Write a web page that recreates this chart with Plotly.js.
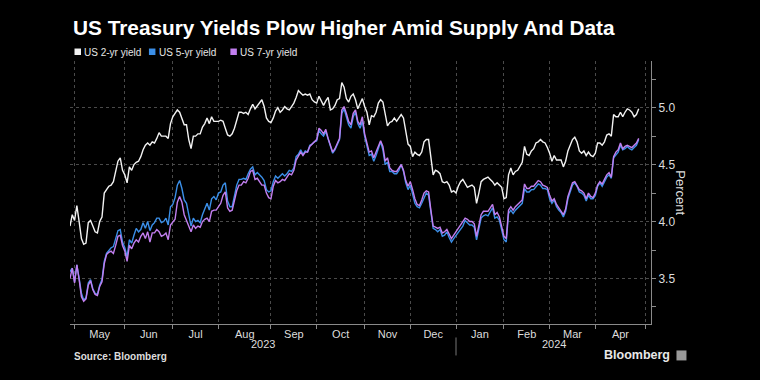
<!DOCTYPE html>
<html>
<head>
<meta charset="utf-8">
<script src="https://cdn.plot.ly/plotly-3.0.1.min.js"></script>
<style>html,body{margin:0;padding:0;background:#000;}#chart{width:760px;height:380px;}</style>
</head>
<body>
<div id="chart"></div>
<script>
// US bond-market holidays (skipped on the axis, like the original trading-day axis)
const holidays = ['2023-05-29','2023-06-19','2023-07-04','2023-09-04','2023-10-09','2023-11-10',
  '2023-11-23','2023-12-25','2024-01-01','2024-01-15','2024-02-19','2024-03-29'];
const firstDate = '2023-04-27';

const seriesNames = ['US 2-yr yield', 'US 5-yr yield', 'US 7-yr yield'];

// Daily closes, one per trading day from 2023-04-27 to 2024-04-26
const twoYr = [
3.96,4.06,4.01,4.14,4.00,3.85,3.80,3.81,3.99,4.01,
3.96,3.91,3.90,4.00,4.04,4.25,4.28,4.31,4.32,4.35,
4.44,4.53,4.56,4.45,4.41,4.34,4.48,4.45,4.50,4.52,
4.53,4.57,4.63,4.67,4.69,4.67,4.70,4.69,4.73,4.78,
4.75,4.75,4.75,4.73,4.86,4.92,4.95,4.98,4.96,4.91,
4.85,4.85,4.72,4.64,4.75,4.75,4.77,4.77,4.83,4.86,
4.91,4.86,4.92,4.88,4.88,4.88,4.89,4.88,4.82,4.76,
4.75,4.77,4.82,4.90,4.96,4.96,4.95,4.96,4.94,4.99,
5.03,4.99,5.02,5.05,5.07,5.01,4.91,4.88,4.87,4.91,
4.97,5.00,4.96,4.98,5.01,4.99,4.98,5.01,5.04,5.09,
5.15,5.13,5.11,5.12,5.11,5.12,5.07,5.05,5.04,5.10,
5.06,5.02,5.06,5.09,4.98,4.99,5.02,5.07,5.08,5.22,
5.18,5.08,5.05,5.10,5.12,5.07,4.99,5.04,5.08,5.01,
4.96,4.85,4.93,4.92,4.96,5.04,5.07,5.05,4.95,4.84,
4.87,4.88,4.91,4.88,4.91,4.94,4.91,4.79,4.68,4.66,
4.57,4.61,4.59,4.58,4.61,4.70,4.72,4.72,4.54,4.41,
4.45,4.44,4.42,4.35,4.34,4.35,4.32,4.26,4.27,4.25,
4.31,4.35,4.37,4.34,4.30,4.31,4.32,4.30,4.16,4.25,
4.35,4.37,4.38,4.39,4.37,4.35,4.32,4.34,4.32,4.30,
4.20,4.21,4.41,4.47,4.41,4.44,4.45,4.48,4.52,4.66,
4.59,4.58,4.62,4.64,4.69,4.70,4.72,4.70,4.69,4.65,
4.60,4.53,4.58,4.54,4.54,4.54,4.48,4.53,4.62,4.67,
4.72,4.74,4.70,4.62,4.60,4.62,4.58,4.61,4.58,4.57,
4.60,4.69,4.69,4.67,4.70,4.76,4.77,4.75,4.94,4.92,
4.92,4.96,4.92,4.96,4.99,4.98,4.96,4.92,4.94,4.99];

const fiveYr = [
3.56,3.59,3.47,3.62,3.50,3.37,3.31,3.33,3.46,3.49,
3.41,3.37,3.36,3.44,3.49,3.65,3.72,3.75,3.77,3.78,
3.85,3.92,3.93,3.82,3.77,3.69,3.84,3.81,3.88,3.94,
3.91,3.93,3.99,3.94,4.00,3.92,3.97,3.99,4.03,4.03,
3.99,4.00,4.03,3.97,4.13,4.15,4.21,4.32,4.36,4.29,
4.19,4.16,4.06,3.96,4.03,4.00,4.01,3.99,4.06,4.12,
4.16,4.10,4.20,4.22,4.19,4.25,4.26,4.32,4.34,4.18,
4.13,4.13,4.23,4.32,4.37,4.37,4.38,4.37,4.42,4.46,
4.48,4.41,4.43,4.41,4.39,4.36,4.28,4.26,4.27,4.35,
4.40,4.38,4.40,4.42,4.40,4.42,4.45,4.44,4.47,4.57,
4.59,4.63,4.59,4.62,4.61,4.67,4.68,4.70,4.71,4.80,
4.77,4.75,4.79,4.72,4.66,4.60,4.63,4.67,4.72,4.95,
4.99,4.92,4.85,4.82,4.92,4.96,4.86,4.82,4.88,4.75,
4.67,4.58,4.59,4.53,4.58,4.64,4.70,4.63,4.50,4.52,
4.44,4.44,4.42,4.42,4.45,4.50,4.44,4.34,4.28,4.32,
4.25,4.16,4.13,4.12,4.16,4.20,4.25,4.23,4.07,3.94,
3.93,3.91,3.93,3.87,3.88,3.91,3.86,3.82,3.85,3.88,
3.91,3.94,3.96,4.01,3.99,3.97,3.97,3.95,3.84,3.93,
4.03,4.05,4.06,4.05,4.08,4.12,4.03,4.04,4.01,3.91,
3.84,3.82,4.07,4.10,4.07,4.10,4.12,4.14,4.16,4.29,
4.26,4.26,4.28,4.28,4.31,4.33,4.32,4.29,4.29,4.28,
4.20,4.16,4.19,4.13,4.10,4.08,4.04,4.09,4.20,4.26,
4.32,4.34,4.31,4.26,4.25,4.23,4.18,4.23,4.20,4.20,
4.23,4.31,4.34,4.31,4.35,4.39,4.41,4.38,4.56,4.59,
4.61,4.67,4.63,4.64,4.66,4.64,4.63,4.65,4.67,4.72];

const sevenYr = [
3.50,3.59,3.46,3.62,3.49,3.34,3.30,3.32,3.44,3.48,
3.40,3.36,3.35,3.43,3.47,3.63,3.71,3.73,3.74,3.72,
3.79,3.87,3.88,3.79,3.74,3.65,3.79,3.76,3.81,3.84,
3.82,3.87,3.90,3.85,3.91,3.82,3.90,3.90,3.93,3.91,
3.87,3.88,3.90,3.84,3.97,4.00,4.02,4.17,4.22,4.17,
4.06,4.01,3.96,3.91,3.97,3.94,3.96,3.95,4.00,4.02,
4.03,4.00,4.09,4.10,4.10,4.13,4.16,4.23,4.26,4.12,
4.09,4.10,4.19,4.27,4.32,4.32,4.35,4.34,4.38,4.44,
4.45,4.37,4.38,4.35,4.32,4.32,4.25,4.21,4.20,4.31,
4.36,4.34,4.35,4.37,4.36,4.39,4.42,4.41,4.45,4.54,
4.58,4.61,4.58,4.61,4.61,4.66,4.68,4.70,4.72,4.82,
4.80,4.77,4.81,4.73,4.67,4.61,4.64,4.69,4.73,4.98,
5.01,4.95,4.88,4.85,4.95,4.98,4.88,4.85,4.92,4.77,
4.70,4.61,4.62,4.56,4.61,4.67,4.71,4.66,4.53,4.56,
4.47,4.45,4.44,4.44,4.47,4.50,4.45,4.36,4.31,4.35,
4.28,4.20,4.15,4.14,4.19,4.25,4.27,4.26,4.10,3.96,
3.95,3.94,3.95,3.90,3.91,3.93,3.89,3.85,3.88,3.91,
3.94,3.96,3.99,4.03,4.02,4.00,4.00,3.98,3.87,3.96,
4.06,4.09,4.09,4.09,4.12,4.15,4.06,4.08,4.04,3.95,
3.87,3.85,4.10,4.13,4.10,4.13,4.15,4.17,4.19,4.33,
4.29,4.29,4.31,4.31,4.34,4.36,4.35,4.32,4.31,4.30,
4.23,4.18,4.20,4.15,4.12,4.09,4.06,4.11,4.22,4.28,
4.34,4.35,4.32,4.28,4.27,4.25,4.20,4.25,4.22,4.21,
4.25,4.32,4.35,4.33,4.37,4.41,4.43,4.39,4.57,4.61,
4.63,4.69,4.64,4.66,4.67,4.66,4.65,4.67,4.69,4.73];

// Axis ticks
const monthStarts = ['2023-05-01','2023-06-01','2023-07-03','2023-08-01','2023-09-01','2023-10-02',
  '2023-11-01','2023-12-01','2024-01-02','2024-02-01','2024-03-01','2024-04-01','2024-05-01'];
const monthMids = ['2023-05-16','2023-06-15 12:00','2023-07-18','2023-08-16 12:00','2023-09-18',
  '2023-10-17 12:00','2023-11-16','2023-12-15','2024-01-17 12:00','2024-02-15','2024-03-15','2024-04-16'];
const monthLabels = ['May','Jun','Jul','Aug','Sep','Oct','Nov','Dec','Jan','Feb','Mar','Apr'];
const yearLabels = ['2023','2024'];
const yTicks = [3.5, 4.0, 4.5, 5.0];
const yMinor = [3.25, 3.75, 4.25, 4.75, 5.25];

function tradingDays(start, n) {
  const out = [];
  const d = new Date(start + 'T00:00:00Z');
  while (out.length < n) {
    const s = d.toISOString().slice(0, 10);
    const dow = d.getUTCDay();
    if (dow !== 0 && dow !== 6 && holidays.indexOf(s) < 0) out.push(s);
    d.setUTCDate(d.getUTCDate() + 1);
  }
  return out;
}
const dates = tradingDays(firstDate, twoYr.length);

const colors = ['#f2f2f2', '#3b8fe8', '#c27ff0'];
const FONT = 'Liberation Sans, Arial, sans-serif';

const traces = [twoYr, fiveYr, sevenYr].map((vals, i) => ({
  type: 'scatter', mode: 'lines', x: dates, y: vals, name: seriesNames[i],
  line: {color: colors[i], width: 1.4}, hoverinfo: 'skip', showlegend: false
}));

// layout helpers (pixel -> paper) for decorations outside the plot
const L = 70, R = 651.5, T = 61, B = 324.5;
const px = v => (v - L) / (R - L);
const py = v => (B - v) / (B - T);

const shapes = [];
const annotations = [];
const legX = [[74.5, 82.5], [149, 157], [230.5, 238]];
legX.forEach((p, i) => {
  shapes.push({type: 'rect', xref: 'paper', yref: 'paper', x0: px(p[0]), x1: px(p[0] + 6.5),
    y0: py(55), y1: py(48.5), fillcolor: colors[i], line: {width: 0}});
  annotations.push({xref: 'paper', yref: 'paper', x: px(p[1]), y: py(52), xanchor: 'left', yanchor: 'middle',
    text: seriesNames[i], showarrow: false, font: {family: FONT, size: 10, color: '#e6e6e6'}});
});
annotations.push({xref: 'paper', yref: 'paper', x: px(681), y: py(193), text: 'Percent', textangle: 90,
  showarrow: false, xanchor: 'center', yanchor: 'middle', font: {family: FONT, size: 13, color: '#dddddd'}});
annotations.push({xref: 'paper', yref: 'paper', x: px(263.5), y: py(345), text: yearLabels[0], showarrow: false,
  xanchor: 'center', yanchor: 'middle', font: {family: FONT, size: 11, color: '#dddddd'}});
annotations.push({xref: 'paper', yref: 'paper', x: px(554), y: py(345), text: yearLabels[1], showarrow: false,
  xanchor: 'center', yanchor: 'middle', font: {family: FONT, size: 11, color: '#dddddd'}});
annotations.push({xref: 'paper', yref: 'paper', x: px(72), y: py(357), text: '<b>Source: Bloomberg</b>', showarrow: false,
  xanchor: 'left', yanchor: 'middle', font: {family: FONT, size: 10, color: '#dddddd'}});
annotations.push({xref: 'paper', yref: 'paper', x: px(673), y: py(356), text: '<b>Bloomberg</b>', showarrow: false,
  xanchor: 'right', yanchor: 'middle', font: {family: FONT, size: 12.5, color: '#e8e8e8'}});
shapes.push({type: 'line', xref: 'x', yref: 'paper', x0: monthStarts[8], x1: monthStarts[8],
  y0: py(338), y1: py(356), line: {color: '#777', width: 1}});
shapes.push({type: 'rect', xref: 'paper', yref: 'paper', x0: px(677), x1: px(687), y0: py(361), y1: py(351),
  fillcolor: '#9a9a9a', line: {width: 0}});

const layout = {
  width: 760, height: 380,
  paper_bgcolor: '#000', plot_bgcolor: '#000',
  margin: {l: L, r: 760 - R, t: T, b: 380 - B, pad: 0},
  font: {family: FONT, color: '#dddddd'},
  title: {text: '<b>US Treasury Yields Plow Higher Amid Supply And Data</b>',
    font: {family: FONT, size: 20.8, color: '#ffffff'},
    x: 73 / 760, xref: 'container', xanchor: 'left', y: 1 - 28 / 380, yref: 'container', yanchor: 'middle'},
  showlegend: false,
  xaxis: {
    type: 'date', range: ['2023-04-27', '2024-05-03 09:00'],
    rangebreaks: [{bounds: ['sat', 'mon']}, {values: holidays}],
    tickmode: 'array', tickvals: monthMids, ticktext: monthLabels, ticks: '',
    showgrid: false, zeroline: false, showline: true, linecolor: '#8a8a8a', linewidth: 1,
    tickfont: {family: FONT, size: 11, color: '#dddddd'},
    minor: {tickmode: 'array', tickvals: monthStarts, ticks: 'outside', ticklen: 4, tickcolor: '#8a8a8a',
      showgrid: true, gridcolor: '#4a4a4a', griddash: 'dot', gridwidth: 1}
  },
  yaxis: {
    side: 'right', range: [3.1, 5.41], tickmode: 'array', tickvals: yTicks, ticktext: yTicks.map(v => v.toFixed(1)),
    ticks: 'outside', ticklen: 4, tickcolor: '#8a8a8a', showline: true, linecolor: '#8a8a8a', linewidth: 1,
    showgrid: true, gridcolor: '#4a4a4a', griddash: 'dot', gridwidth: 1, zeroline: false,
    tickfont: {family: FONT, size: 12, color: '#dddddd'},
    minor: {tickmode: 'array', tickvals: yMinor, ticks: 'outside', ticklen: 4, tickcolor: '#8a8a8a', showgrid: false}
  },
  shapes: shapes,
  annotations: annotations
};

Plotly.newPlot('chart', traces, layout, {displayModeBar: false, staticPlot: true});
</script>
</body>
</html>
